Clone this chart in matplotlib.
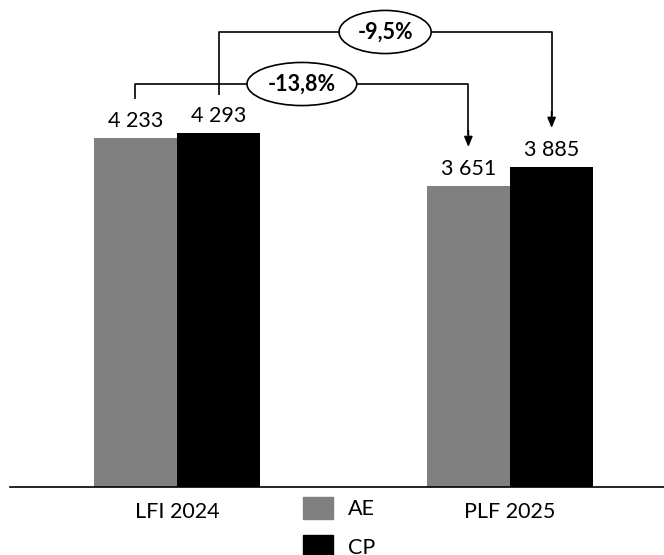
import matplotlib
matplotlib.use("Agg")
import matplotlib.pyplot as plt
import numpy as np
from matplotlib.patches import Patch

plt.rcParams['font.family'] = ['Lato', 'DejaVu Sans']

categories = ["LFI 2024", "PLF 2025"]
series_names = ["AE", "CP"]
ae_values = [4233, 3651]
cp_values = [4293, 3885]
labels_ae = ["4 233", "3 651"]
labels_cp = ["4 293", "3 885"]
change_ae = "-13,8%"
change_cp = "-9,5%"

colors = {"AE": "#808080", "CP": "#000000"}

W, H = 664, 555
FS = 15.5
fig = plt.figure(figsize=(W/100, H/100), dpi=100)
ax = fig.add_axes([10/W, (H-487)/H, 654/W, 487/H])

x = np.arange(len(categories))
bw = 0.25
ax.bar(x - bw/2, ae_values, bw, color=colors["AE"], label="AE")
ax.bar(x + bw/2, cp_values, bw, color=colors["CP"], label="CP")

ax.set_xlim(-0.5015, 1.4625)
ax.set_ylim(0, 5907)

for i in range(len(categories)):
    ax.annotate(labels_ae[i], (x[i]-bw/2, ae_values[i]), xytext=(0, 5),
                textcoords="offset points", ha="center", va="bottom", fontsize=FS)
    ax.annotate(labels_cp[i], (x[i]+bw/2, cp_values[i]), xytext=(0, 5),
                textcoords="offset points", ha="center", va="bottom", fontsize=FS)

# connectors
def connector(x0, x1, y_start, y_level, y_end, text):
    ax.plot([x0, x0, x1, x1], [y_start, y_level, y_level, y_end + 150],
            color="black", lw=1.2, solid_capstyle="butt")
    ax.annotate("", xy=(x1, y_end), xytext=(x1, y_end + 200),
                arrowprops=dict(arrowstyle="-|>,head_width=0.25,head_length=0.6",
                                color="black", lw=1.2, shrinkA=0, shrinkB=0))
    ax.text((x0 + x1)/2, y_level, text, ha="center", va="center",
            fontsize=FS, fontweight="bold",
            bbox=dict(boxstyle="ellipse,pad=0.22", fc="white", ec="black", lw=1.2))

connector(x[0]-bw/2, x[1]-bw/2, 4706, 4888, 4124, change_ae)
connector(x[0]+bw/2, x[1]+bw/2, 4755, 5519, 4355, change_cp)

for s in ["top", "right", "left"]:
    ax.spines[s].set_visible(False)
ax.spines["bottom"].set_linewidth(1.2)
ax.set_yticks([])
ax.set_xticks(x)
ax.set_xticklabels(categories, fontsize=FS)
ax.tick_params(axis="x", length=0, pad=11)

handles = [Patch(color=colors["AE"], label="AE"), Patch(color=colors["CP"], label="CP")]
fig.legend(handles=handles, loc="upper left", bbox_to_anchor=(303/W, 1 - 497/H),
           frameon=False, fontsize=FS, handlelength=1.4, handleheight=1.2,
           labelspacing=0.75, handletextpad=0.7, borderpad=0, borderaxespad=0)

fig.savefig("out.png", dpi=100)
